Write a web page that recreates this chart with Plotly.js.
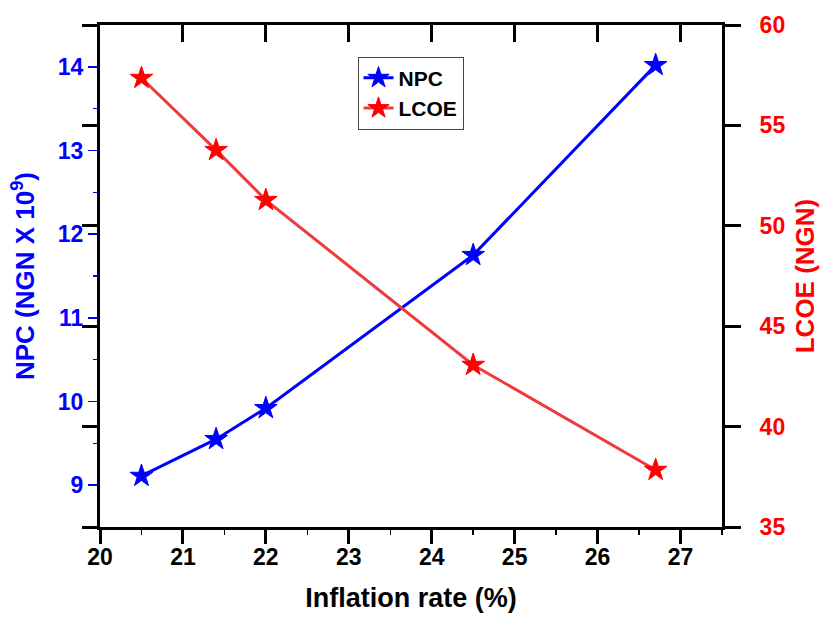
<!DOCTYPE html>
<html>
<head>
<meta charset="utf-8">
<script src="https://cdn.plot.ly/plotly-3.0.1.min.js"></script>
<style>html,body{margin:0;padding:0;background:#fff;}#chart{width:822px;height:619px;}</style>
</head>
<body>
<div id="chart"></div>
<script>
// Data
const inflationRate = [20.5, 21.4, 22.0, 24.5, 26.7];
const npcValues = [9.11, 9.55, 9.92, 11.75, 14.02];      // NGN x 10^9
const lcoeValues = [57.36, 53.77, 51.28, 43.07, 37.84];   // NGN
const seriesNames = ["NPC", "LCOE"];
const xTitle = "Inflation rate (%)";
const yLeftTitle = "NPC (NGN X 10<sup>9</sup>)";
const yRightTitle = "LCOE (NGN)";

const FONT = "Liberation Sans, Arial, sans-serif";
const BLUE = "#0000ff";
const RED = "#ff0000";

const traces = [
  {
    x: inflationRate, y: npcValues, name: seriesNames[0],
    type: "scatter", mode: "lines+markers", xaxis: "x", yaxis: "y",
    line: {color: BLUE, width: 3},
    marker: {symbol: "star", size: 17, color: BLUE, line: {color: BLUE, width: 1}}
  },
  {
    x: inflationRate, y: lcoeValues, name: seriesNames[1],
    type: "scatter", mode: "lines+markers", xaxis: "x", yaxis: "y2",
    line: {color: "#ee3a3a", width: 3},
    marker: {symbol: "star", size: 17, color: RED, line: {color: RED, width: 1}}
  },
  // invisible helper so the mirrored frame axes (top ticks, left black ticks) are drawn
  {
    x: inflationRate, y: lcoeValues, xaxis: "x2", yaxis: "y3",
    type: "scatter", mode: "none", showlegend: false, hoverinfo: "skip"
  }
];

const layout = {
  width: 822, height: 619,
  margin: {l: 100, r: 100, t: 25, b: 92, pad: 0},
  paper_bgcolor: "#fff", plot_bgcolor: "#fff",
  font: {family: FONT, color: "#000"},
  showlegend: true,
  legend: {
    x: 0.414, y: 0.937, xanchor: "left", yanchor: "top",
    bgcolor: "#fff", bordercolor: "#444", borderwidth: 1,
    font: {family: FONT, size: 21, color: "#000", weight: "bold"},
    tracegroupgap: 0
  },
  xaxis: {
    range: [20, 27.5], domain: [0, 1], anchor: "y",
    showline: true, linecolor: "#000", linewidth: 3,
    showgrid: false, zeroline: false,
    ticks: "outside", ticklen: 14, tickwidth: 3, tickcolor: "#000",
    tick0: 20, dtick: 1, ticklabelstandoff: -7,
    minor: {ticks: "outside", ticklen: 5, tickwidth: 1.5, tickcolor: "#000", dtick: 0.5, showgrid: false},
    tickfont: {family: FONT, size: 23, color: "#000", weight: "bold"},
    title: {text: xTitle, font: {family: FONT, size: 27, color: "#000", weight: "bold"}, standoff: 20}
  },
  xaxis2: {
    range: [20, 27.5], overlaying: "x", side: "top", anchor: "y",
    showline: true, linecolor: "#000", linewidth: 3,
    showgrid: false, zeroline: false,
    ticks: "inside", ticklen: 17, tickwidth: 3, tickcolor: "#000",
    tick0: 20, dtick: 1, showticklabels: false
  },
  yaxis: {
    range: [8.5, 14.5], domain: [0, 1], anchor: "x", side: "left",
    showline: true, linecolor: "#000", linewidth: 3,
    showgrid: false, zeroline: false,
    ticks: "outside", ticklen: 9, tickwidth: 1.5, tickcolor: BLUE,
    tick0: 9, dtick: 1,
    minor: {ticks: "outside", ticklen: 4, tickwidth: 1.5, tickcolor: BLUE, dtick: 0.5, showgrid: false},
    tickfont: {family: FONT, size: 23, color: BLUE, weight: "bold"},
    title: {text: yLeftTitle, font: {family: FONT, size: 26, color: BLUE, weight: "bold"}, standoff: 16}
  },
  yaxis2: {
    range: [35, 60], overlaying: "y", anchor: "x", side: "right",
    showline: true, linecolor: "#000", linewidth: 3,
    showgrid: false, zeroline: false,
    ticks: "outside", ticklen: 16, tickwidth: 3, tickcolor: "#000",
    tick0: 35, dtick: 5, ticklabelstandoff: 14,
    tickfont: {family: FONT, size: 23, color: RED, weight: "bold"},
    title: {text: yRightTitle, font: {family: FONT, size: 26, color: RED, weight: "bold"}, standoff: 12}
  },
  yaxis3: {
    range: [35, 60], overlaying: "y", anchor: "x", side: "left",
    showline: false, showgrid: false, zeroline: false,
    ticks: "outside", ticklen: 17, tickwidth: 3, tickcolor: "#000",
    tick0: 35, dtick: 5, showticklabels: false
  }
};

Plotly.newPlot("chart", traces, layout, {displayModeBar: false, staticPlot: true});
</script>
</body>
</html>
